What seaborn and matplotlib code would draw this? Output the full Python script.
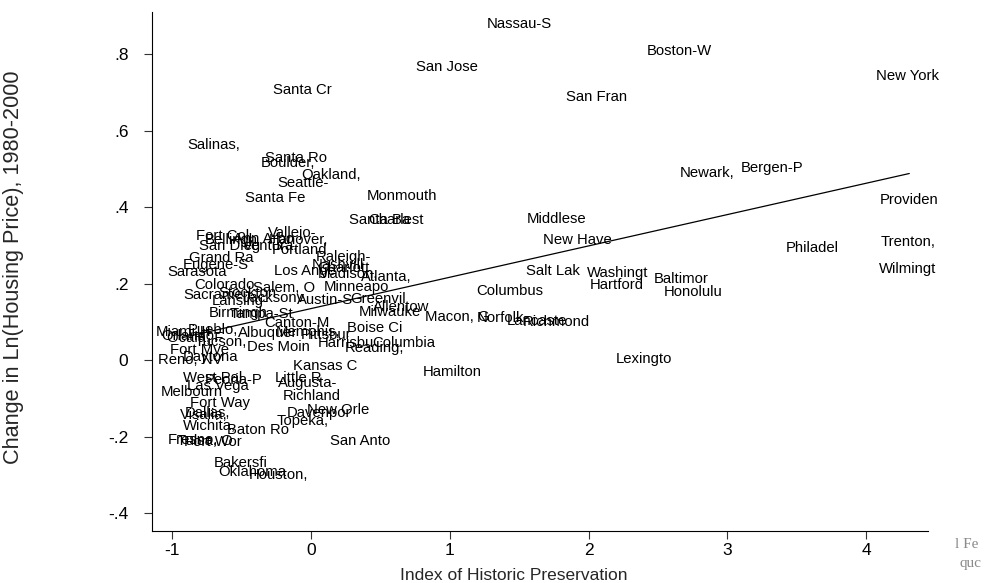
import matplotlib
matplotlib.use("Agg")
import matplotlib.pyplot as plt
import pandas as pd
import seaborn as sns

# Metro areas (names truncated to 8 characters), preservation index and price change
metro = [
    "Nassau-S", "Boston-W", "San Jose", "New York", "Santa Cr", "San Fran",
    "Salinas,", "Santa Ro", "Boulder,", "Oakland,", "Seattle-", "Newark,",
    "Bergen-P", "Santa Fe", "Monmouth", "Providen", "Santa Ba", "Charlest",
    "Middlese", "New Have", "Fort Col", "Vallejo-", "Bellingh", "Ann Arbo",
    "Hanover,", "San Dieg", "Ventura,", "Portland", "Grand Ra", "Eugene-S",
    "Sarasota", "Raleigh-", "Nashvill", "Los Ange", "Charlott", "Madison,",
    "Atlanta,", "Minneapo", "Greenvil", "Austin-S", "Milwauke", "Allentow",
    "Macon, G", "Norfolk-", "Lancaste", "Richmond", "Columbus", "Salt Lak",
    "Washingt", "Hartford", "Baltimor", "Honolulu", "Lexingto", "Hamilton",
    "Philadel", "Trenton,", "Wilmingt", "Colorado", "Salem, O", "Sacramen",
    "Stockton", "Lansing-", "Jacksonv", "Birmingh", "Tampa-St", "Canton-M",
    "Memphis,", "Albuquer", "Pittsbur", "Pueblo,", "Miami-H", "Orlando,",
    "Ocala, F", "Tucson,", "Boise Ci", "Harrisbu", "Columbia", "Reading,",
    "Des Moin", "Fort Mye", "Daytona", "Reno, NV", "Kansas C", "West Pal",
    "Peoria-P", "Las Vega", "Little R", "Augusta-", "Melbourn", "Richland",
    "Fort Way", "New Orle", "Davenpor", "Topeka,", "Visalia,", "Dallas,",
    "Wichita,", "Baton Ro", "Fresno,", "Tulsa, O", "Fort Wor", "San Anto",
    "Bakersfi", "Oklahoma", "Houston,",
]
preservation = [
    1.50, 2.65, 0.98, 4.30, -0.065, 2.06,
    -0.70, -0.11, -0.165, 0.144, -0.058, 2.85,
    3.32, -0.26, 0.656, 4.31, 0.49, 0.61,
    1.77, 1.92, -0.64, -0.137, -0.576, -0.346,
    -0.094, -0.584, -0.295, -0.086, -0.648, -0.684,
    -0.821, 0.231, 0.195, -0.043, 0.231, 0.267,
    0.540, 0.324, 0.483, 0.101, 0.569, 0.648,
    1.05, 1.38, 1.63, 1.77, 1.43, 1.74,
    2.21, 2.20, 2.67, 2.75, 2.40, 1.02,
    3.61, 4.30, 4.30, -0.627, -0.195, -0.677,
    -0.461, -0.512, -0.267, -0.526, -0.360, -0.101,
    -0.022, -0.31, 0.108, -0.706, -0.922, -0.872,
    -0.836, -0.648, 0.461, 0.252, 0.670, 0.454,
    -0.238, -0.807, -0.728, -0.872, 0.101, -0.706,
    -0.555, -0.670, -0.094, -0.022, -0.857, 0.007,
    -0.656, 0.195, 0.058, -0.058, -0.771, -0.749,
    -0.735, -0.382, -0.850, -0.764, -0.706, 0.353,
    -0.504, -0.425, -0.238,
]
price_change = [
    0.878, 0.808, 0.766, 0.742, 0.706, 0.688,
    0.562, 0.528, 0.515, 0.484, 0.463, 0.489,
    0.502, 0.424, 0.429, 0.418, 0.366, 0.366,
    0.369, 0.314, 0.324, 0.332, 0.314, 0.316,
    0.314, 0.298, 0.298, 0.288, 0.267, 0.248,
    0.230, 0.269, 0.248, 0.233, 0.241, 0.225,
    0.217, 0.191, 0.159, 0.157, 0.125, 0.139,
    0.112, 0.110, 0.102, 0.099, 0.180, 0.233,
    0.227, 0.196, 0.212, 0.178, 0.003, -0.031,
    0.293, 0.308, 0.238, 0.196, 0.188, 0.170,
    0.175, 0.154, 0.162, 0.123, 0.120, 0.097,
    0.073, 0.071, 0.065, 0.078, 0.073, 0.063,
    0.058, 0.047, 0.084, 0.044, 0.044, 0.031,
    0.034, 0.026, 0.008, 0.000, -0.016, -0.047,
    -0.052, -0.068, -0.047, -0.060, -0.084, -0.094,
    -0.112, -0.131, -0.139, -0.159, -0.144, -0.139,
    -0.173, -0.183, -0.209, -0.212, -0.214, -0.212,
    -0.269, -0.293, -0.301,
]

x_ticks = [-1, 0, 1, 2, 3, 4]
y_ticks = [-0.4, -0.2, 0.0, 0.2, 0.4, 0.6, 0.8]
y_tick_labels = ["-.4", "-.2", "0", ".2", ".4", ".6", ".8"]

df = pd.DataFrame({"metro": metro, "hp": preservation, "dlnp": price_change})

sns.set_theme(style="ticks")
plt.rcParams["font.family"] = ["Liberation Sans", "DejaVu Sans"]

fig = plt.figure(figsize=(9.84, 5.83), dpi=100)
ax = fig.add_axes([0.1545, 0.0892, 0.7886, 0.8902])

# Linear fit through all metro areas
sns.regplot(data=df, x="hp", y="dlnp", scatter=False, ci=None, ax=ax,
            line_kws=dict(color="black", lw=0.9))

# Metro names used as the plotting symbols
for name, xv, yv in zip(df["metro"], df["hp"], df["dlnp"]):
    ax.text(xv, yv, name, ha="center", va="center", fontsize=10.7,
            color="black", clip_on=False)

ax.set_xlim(-1.146, 4.445)
ax.set_ylim(-0.447, 0.910)
ax.set_xticks(x_ticks)
ax.set_xticklabels([str(t) for t in x_ticks])
ax.set_yticks(y_ticks)
ax.set_yticklabels(y_tick_labels)
ax.tick_params(axis="both", direction="out", length=6, width=0.8,
               color="#333333", labelsize=12.5, labelcolor="black")
ax.tick_params(axis="y", pad=11)
ax.tick_params(axis="x", pad=3)
ax.set_xlabel("Index of Historic Preservation", fontsize=12.5)
ax.set_ylabel("Change in Ln(Housing Price), 1980-2000", fontsize=15.6)
ax.xaxis.set_label_coords(0.4665, -0.072)
ax.yaxis.set_label_coords(-0.165, 0.509)
sns.despine(ax=ax)
for side in ("left", "bottom"):
    ax.spines[side].set_color("black")
    ax.spines[side].set_linewidth(0.8)
ax.set_facecolor("white")
fig.patch.set_facecolor("white")

# Fragments of a caption at the right edge
fig.text(0.9705, 1 - 545 / 583, "l Fe", fontsize=11, color="#8a8a8a",
         family="Liberation Serif", ha="left", va="center")
fig.text(0.975, 1 - 563 / 583, "quc", fontsize=11, color="#8a8a8a",
         family="Liberation Serif", ha="left", va="center")

fig.savefig("out.png", dpi=100)
